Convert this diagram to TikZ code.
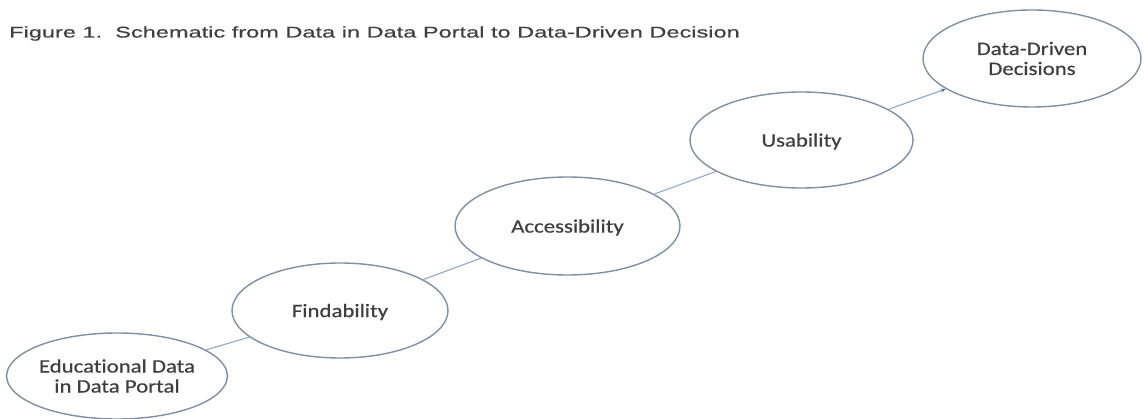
\documentclass[tikz,border=0pt]{standalone}
\usepackage{fontspec}
\setmainfont{Carlito}[FakeStretch=1.2, FakeBold=0.5, Ligatures=NoCommon]
\newfontfamily\titlefont{Liberation Sans}[FakeStretch=1.52, FakeBold=0.4]
\usetikzlibrary{shapes.geometric,arrows.meta}
\definecolor{rimgray}{HTML}{7F8FA6}
\definecolor{linkblue}{HTML}{8FA9C9}
\definecolor{tipblue}{HTML}{4A6FA5}
\definecolor{inkgray}{HTML}{3F3F3F}
\tikzset{
  stage/.style={ellipse, draw=rimgray, line width=1.4pt, inner sep=0pt,
    text=inkgray, align=center, font=\fontsize{19}{20}\selectfont},
  oneline/.style={text depth=0pt},
  link/.style={draw=linkblue, line width=1.1pt},
}
\begin{document}
\begin{tikzpicture}[x=1pt,y=1pt]
\useasboundingbox[fill=white] (0,0) rectangle (1144,418);
\node[anchor=base west, inner sep=0pt, text=inkgray, font=\titlefont\fontsize{15.5}{18}\selectfont]
  (title) at (9,380.5) {Figure 1.\ \ Schematic from Data in Data Portal to Data-Driven Decision};
\node[stage, minimum width=220, minimum height=86] (edu) at (117,42) {Educational Data\\in Data Portal};
\node[stage, oneline, minimum width=216, minimum height=95] (find) at (340,107.5) {Findability};
\node[stage, oneline, minimum width=225, minimum height=98] (acc) at (567.5,192) {Accessibility};
\node[stage, oneline, minimum width=223, minimum height=96] (use) at (801.5,278) {Usability};
\node[stage, minimum width=218, minimum height=97] (ddd) at (1032,359.5) {Data-Driven\\Decisions};
\draw[link] (edu) -- (find);
\draw[link] (find) -- (acc);
\draw[link] (acc) -- (use);
\draw[link, -{Stealth[length=5pt,width=4pt,color=tipblue]}] (use) -- (ddd);
\end{tikzpicture}
\end{document}
